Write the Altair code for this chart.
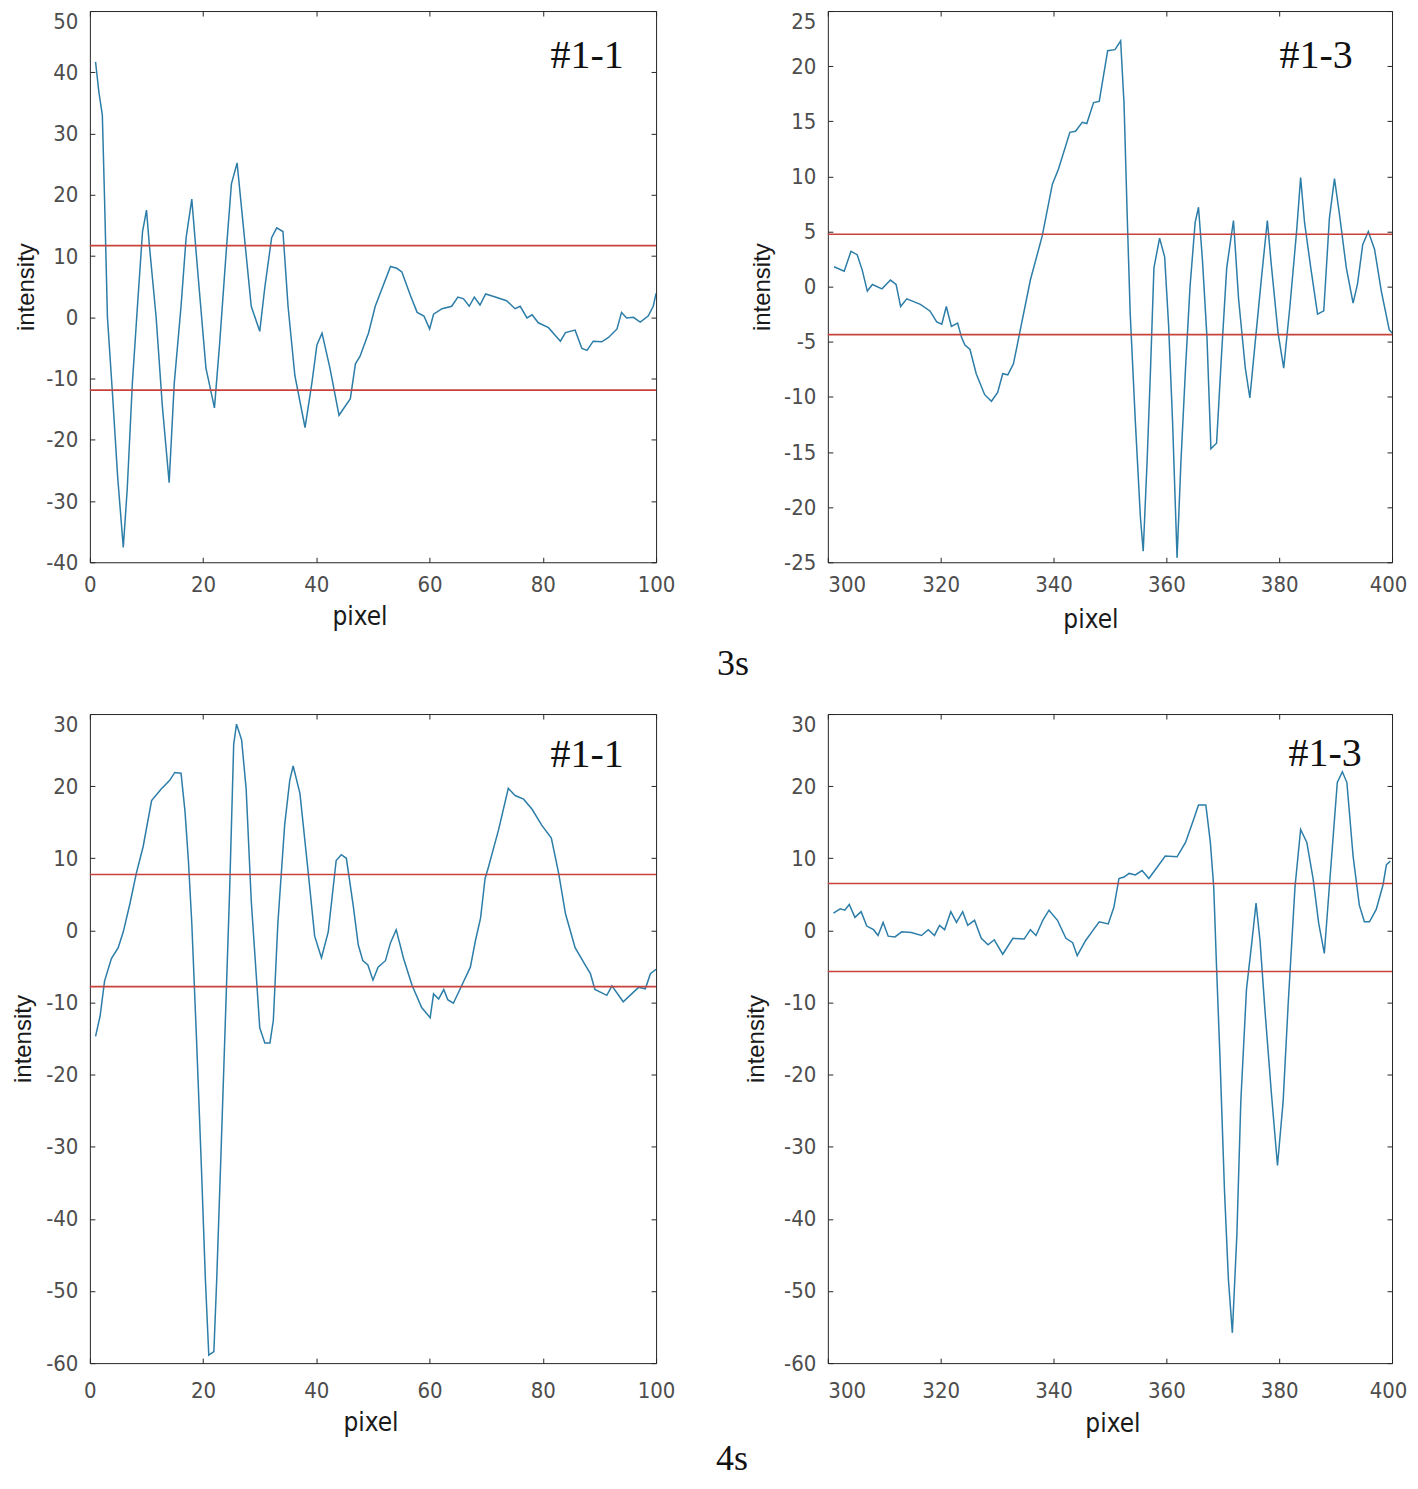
import altair as alt
import pandas as pd

# ---------------- data ----------------
# 3s, #1-1
tl_x = [1, 1.6, 2.2, 2.6, 3.1, 4, 4.9, 5.9, 6.6, 7.5, 8.4, 9.3, 10, 10.5, 11.7, 12.8, 14, 14.9, 16.1, 17,
        18, 19, 20.5, 22, 22.9, 24.1, 25, 26, 27.3, 28.5, 30, 30.9, 32.1, 33, 34.1, 35, 36.2, 38, 39.2, 40.1,
        41, 42.4, 44, 46, 46.9, 47.7, 49.2, 50.4, 53.1, 54.2, 55.1, 56.6, 57.8, 59, 60, 60.7, 62.2, 63.9, 65, 66,
        67, 67.9, 68.9, 69.9, 71.6, 73.6, 75.1, 76, 77.2, 78.1, 79.2, 81, 83.1, 84, 85.7, 86.9, 87.8, 88.9, 90.4,
        91.6, 93.1, 93.9, 94.8, 96, 97.2, 98.6, 99.5, 100]
tl_y = [41.7, 36.7, 33, 19, 0, -12.6, -26, -37.6, -28, -10.8, 1.8, 14, 17.5, 11.8, 0, -14.5, -27, -10.8, 1.8, 13,
        19.3, 8, -8.3, -14.8, -4.5, 11, 21.8, 25.2, 13, 1.8, -2.3, 4.9, 13, 14.6, 14, 1.8, -9.5, -18, -10.8, -4.5,
        -2.6, -8.3, -16, -13.3, -7.6, -6.4, -2.6, 1.8, 8.3, 8, 7.4, 3.6, 0.8, 0.2, -1.9, 0.5, 1.4, 1.8, 3.3, 3,
        1.8, 3.3, 2, 3.8, 3.3, 2.7, 1.4, 1.8, -0.1, 0.4, -0.9, -1.7, -3.9, -2.5, -2.1, -5.1, -5.4, -3.9, -4,
        -3.3, -1.9, 0.8, -0.1, 0, -0.8, 0.2, 1.8, 3.9]
tl_thr = [11.7, -11.9]

# 3s, #1-3
tr_x = [301.1, 302.9, 304.1, 305.2, 306.1, 307, 307.9, 309.6, 311.1, 312.1, 312.9, 314, 316.4, 318.1, 319.3,
        320.2, 321, 321.9, 323, 323.7, 324.3, 325.2, 326.3, 327.8, 329, 330.1, 331, 331.9, 332.9, 334.2, 335.9,
        338, 339.8, 340.9, 342.9, 343.9, 345.1, 345.9, 347.1, 348.1, 349.6, 350.9, 351.9, 352.5, 353.1, 353.6,
        354.5, 355.4, 355.9, 356.6, 357.2, 357.8, 358.8, 359.7, 360.4, 361.1, 361.9, 362.6, 363.4, 364.2, 365.1,
        365.7, 366.4, 367.2, 367.9, 368.9, 369.8, 370.7, 371.9, 372.8, 374, 374.8, 375.7, 376.9, 377.9, 378.6,
        379.8, 380.8, 381.9, 383.1, 383.8, 384.5, 385.6, 386.8, 387.9, 388.9, 389.8, 390.7, 391.9, 393.1, 393.9,
        394.8, 395.8, 396.9, 398.1, 399.5, 400]
tr_y = [1.8, 1.4, 3.2, 2.9, 1.5, -0.4, 0.2, -0.2, 0.6, 0.2, -1.8, -1.1, -1.6, -2.2, -3.2,
        -3.4, -1.8, -3.6, -3.3, -4.6, -5.3, -5.7, -7.9, -9.8, -10.4, -9.6, -7.9, -8, -7, -3.7, 0.6,
        4.6, 9.3, 10.7, 14, 14.1, 14.9, 14.8, 16.7, 16.8, 21.4, 21.5, 22.3, 16.6, 5.8, -2.5,
        -12.2, -20.9, -24, -15.7, -7.4, 1.7, 4.4, 2.7, -3.5, -12.2, -24.6, -15.7, -7.4, 0, 5.8,
        7.2, 2.4, -4.6, -14.7, -14.2, -6, 1.7, 6, -1.1, -7.4, -10.1, -5.3, 1, 6, 2,
        -4.2, -7.4, -1.8, 5.1, 9.9, 5.8, 1.7, -2.5, -2.2, 6.2, 9.8, 6.5, 1.7, -1.5, 0.3,
        3.8, 5, 3.4, -0.4, -3.9, -4.2]
tr_thr = [4.75, -4.35]

# 4s, #1-1
bl_x = [1, 1.8, 2.6, 3.8, 5, 5.9, 7.1, 8.2, 9.4, 10.9, 12.6, 14.1, 15, 16.1, 16.8, 17.4, 18, 18.8, 19.7, 20.4,
        21, 21.9, 22.4, 23.2, 23.9, 24.7, 25.4, 25.9, 26.8, 27.6, 28.5, 29.4, 30, 30.9, 31.8, 32.4, 33.2, 34.4,
        35.3, 35.9, 37.1, 38.5, 39.7, 40.9, 42.1, 43.5, 44.4, 45.3, 46.5, 47.4, 48.2, 49.1, 50, 50.9, 52.2, 53.1,
        54.1, 55.4, 56.9, 58.6, 60.1, 60.7, 61.6, 62.5, 63.2, 64.2, 65.7, 67.2, 68.1, 69, 69.8, 70.4, 72.2, 73.9,
        75.1, 76.6, 78.1, 79.8, 81.5, 82.8, 84, 85.7, 87.5, 88.4, 89.2, 91.3, 92.2, 94.2, 96.9, 98.1, 99, 100]
bl_y = [-14.7, -11.9, -7, -3.9, -2.4, -0.2, 3.8, 7.9, 11.6, 18, 19.6, 20.8, 21.9, 21.8, 16.5, 9.7, 1, -14.4, -32.9, -48.4,
        -58.9, -58.4, -48.4, -29.9, -13.2, 6, 25.8, 28.6, 26.4, 19.6, 4.1, -6.4, -13.5, -15.6, -15.6, -12.5, 1, 14.6,
        20.8, 22.8, 19, 8.5, -0.8, -3.8, -0.2, 9.7, 10.5, 10, 3.5, -2, -4.2, -4.8, -6.9, -5.1, -4.2, -1.7,
        0.1, -3.9, -7.6, -10.7, -12.1, -8.8, -9.5, -8.2, -9.6, -10.1, -7.6, -5.1, -1.4, 1.7, 7.2, 8.8, 14, 19.7,
        18.7, 18.2, 16.8, 14.6, 12.8, 7.9, 2.3, -2.4, -4.8, -6, -8.2, -9, -7.7, -9.9, -7.9, -8.1, -6, -5.4]
bl_thr = [7.75, -7.8]

# 4s, #1-3
br_x = [301, 302.2, 303, 303.8, 304.8, 305.9, 306.9, 308.1, 308.9, 309.8, 310.7, 311.9, 313.1, 314.8, 316.6,
        317.8, 318.9, 319.8, 320.7, 321.8, 322.8, 323.9, 324.8, 326, 327.2, 328.4, 329.5, 331, 332.8, 334.8,
        335.9, 336.9, 338.1, 339.2, 340.7, 342.2, 343.4, 344.2, 345.7, 346.9, 348.1, 349.7, 350.7, 351.6, 352.5,
        353.4, 354.5, 355.7, 356.9, 358.4, 359.8, 361.9, 363.4, 364.8, 365.7, 367, 367.8, 368.4, 368.9, 369.5,
        370.3, 371, 371.7, 372.5, 373.2, 374.2, 375.1, 375.9, 376.6, 377.5, 378.6, 379.7, 380.7, 381.6, 382.8,
        383.8, 384.9, 386, 387, 388, 389, 390.3, 391.2, 392, 393.1, 394.2, 395.1, 396, 397.2, 398.4, 399, 399.7]
br_y = [2.4, 3, 2.8, 3.6, 1.8, 2.6, 0.6, 0.1, -0.7, 1.1, -0.8, -0.9, -0.2, -0.3, -0.7,
        0.1, -0.7, 0.7, 0.1, 2.6, 1.1, 2.6, 0.7, 1.4, -1.1, -2, -1.3, -3.3, -1.1, -1.2,
        0.1, -0.7, 1.4, 2.8, 1.4, -1.1, -1.7, -3.5, -1.4, -0.1, 1.2, 0.9, 3.2, 7.2, 7.4,
        7.9, 7.7, 8.3, 7.2, 8.8, 10.3, 10.2, 12.2, 15.3, 17.4, 17.4, 12.2, 6, -5.1, -17.5,
        -36, -48.4, -55.8, -42.2, -23.7, -8.2, -2, 3.8, -1.4, -11.3, -22.4, -32.6, -23.7, -10.1, 6,
        14, 12.2, 7.2, 1, -3.2, 7.2, 20.5, 22, 20.5, 10.3, 3.5, 1.2, 1.2, 2.9, 6.3, 9.1, 9.6]
br_thr = [6.5, -5.7]

x_ticks_a = [0, 20, 40, 60, 80, 100]
x_ticks_b = [300, 320, 340, 360, 380, 400]
y_ticks_tl = [-40, -30, -20, -10, 0, 10, 20, 30, 40, 50]
y_ticks_tr = [-25, -20, -15, -10, -5, 0, 5, 10, 15, 20, 25]
y_ticks_b = [-60, -50, -40, -30, -20, -10, 0, 10, 20, 30]

panel_labels = ["#1-1", "#1-3", "#1-1", "#1-3"]
captions = ["3s", "4s"]

# ---------------- styles ----------------
BLUE = "#2c7da8"
RED = "#c8423c"
FRAME = "#262626"
LABEL_GRAY = "#4d4d4d"
SANS_N = "DejaVu Sans Condensed, Liberation Sans Narrow, Liberation Sans, sans-serif"
SANS = "Liberation Sans, Arial, sans-serif"
SERIF = "Liberation Serif, Times New Roman, serif"


def cond(value_test, a, b):
    return {"condition": {"test": f"datum.value == {value_test}", "value": a}, "value": b}


def panel(xs, ys, thr, xdom, ydom, xticks, yticks, w, h, label, lab_pos,
          ytitle_x, xtitle_x, xtitle_y, xlab_pad, ylab_pad, cap=None, cap_pos=None):
    df = pd.DataFrame({"pixel": xs, "intensity": ys})
    tdf = pd.DataFrame({"t": thr})
    xs_ = alt.Scale(domain=xdom, nice=False, zero=False)
    ys_ = alt.Scale(domain=ydom, nice=False, zero=False)
    common = dict(offset=-5, tickSize=5, tickColor=FRAME, tickWidth=1, domain=False, grid=False)
    if xdom[0] == 300:
        xalign = cond(xdom[0], "left", "center")
        xoff = cond(xdom[1], -4, 0)
    else:
        xalign = "center"
        xoff = 0
    xaxis = alt.Axis(values=xticks, orient="bottom", labelPadding=xlab_pad, labelFont=SANS_N,
                     labelFontSize=22, labelColor=LABEL_GRAY,
                     labelAlign=xalign, labelOffset=xoff,
                     labelExpr="toString(datum.value)",
                     title="pixel", titleFont=SANS_N, titleFontSize=26, titleFontWeight="normal",
                     titleColor="#1a1a1a", titleX=xtitle_x, titleY=xtitle_y, titleBaseline="middle",
                     **common)
    yaxis = alt.Axis(values=yticks, orient="left", labelPadding=ylab_pad, labelFont=SANS_N,
                     labelFontSize=22, labelColor=LABEL_GRAY,
                     labelBaseline=cond(ydom[1], "top", "middle"),
                     labelExpr="toString(datum.value)",
                     title="intensity", titleFont=SANS, titleFontSize=24, titleFontWeight="normal",
                     titleColor="#1a1a1a", titleX=ytitle_x, titleBaseline="middle",
                     **common)
    line = alt.Chart(df).mark_line(color=BLUE, strokeWidth=1.5, clip=True).encode(
        x=alt.X("pixel:Q", scale=xs_, axis=xaxis),
        y=alt.Y("intensity:Q", scale=ys_, axis=yaxis),
    )
    rules = alt.Chart(tdf).mark_rule(color=RED, strokeWidth=1.6).encode(
        x=alt.X(datum=xdom[0], type="quantitative", scale=xs_,
                axis=alt.Axis(values=xticks, orient="top", labels=False, title=None, **common)),
        x2=alt.X2(datum=xdom[1]),
        y=alt.Y("t:Q", scale=ys_,
                axis=alt.Axis(values=yticks, orient="right", labels=False, title=None, **common)),
    )
    txt = alt.Chart(pd.DataFrame({"label": [label]})).mark_text(
        font=SERIF, fontSize=40, color="#111111", align="center", baseline="middle"
    ).encode(text="label:N", x=alt.value(lab_pos[0]), y=alt.value(lab_pos[1]))
    layers = [line, rules, txt]
    if cap is not None:
        ctext = alt.Chart(pd.DataFrame({"c": [cap]})).mark_text(
            font=SERIF, fontSize=36, color="#111111", align="center", baseline="middle"
        ).encode(text="c:N", x=alt.value(cap_pos[0]), y=alt.value(cap_pos[1]))
        layers.append(ctext)
    return alt.layer(*layers).resolve_axis(x="independent", y="independent").properties(
        width=w, height=h)


tl = panel(tl_x, tl_y, tl_thr, [0, 100], [-40, 50], x_ticks_a, y_ticks_tl, 567, 552,
           panel_labels[0], (498, 45), -68, 270, 59, 12, 12)
tr = panel(tr_x, tr_y, tr_thr, [300, 400], [-25, 25], x_ticks_b, y_ticks_tr, 565, 552,
           panel_labels[1], (489, 45), -70, 263, 62, 12, 12,
           cap=captions[0], cap_pos=(-95, 654))
bl = panel(bl_x, bl_y, bl_thr, [0, 100], [-60, 30], x_ticks_a, y_ticks_b, 567, 650,
           panel_labels[2], (498, 41), -71, 281, 64, 17, 12)
br = panel(br_x, br_y, br_thr, [300, 400], [-60, 30], x_ticks_b, y_ticks_b, 565, 650,
           panel_labels[3], (498, 40), -76, 285, 65, 17, 12,
           cap=captions[1], cap_pos=(-96, 746))

chart = alt.concat(tl, tr, bl, br, columns=2, spacing={"row": 152, "column": 172},
                   bounds="flush").properties(
    padding={"expr": "{top: 0, left: 3, right: 2, bottom: 1}"},
    background="white",
).configure_view(stroke=FRAME, strokeWidth=1)

chart.save("out.html", embed_options={"renderer": "svg", "actions": False})
